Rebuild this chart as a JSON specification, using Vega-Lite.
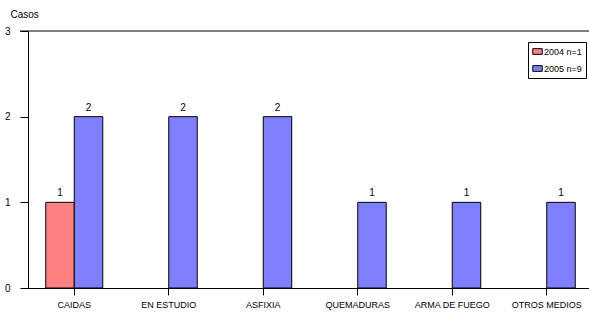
{
  "$schema": "https://vega.github.io/schema/vega-lite/v6.json",
  "width": 561,
  "height": 257,
  "autosize": {"type": "none"},
  "padding": {"left": 28, "top": 31, "right": 0, "bottom": 28},
  "background": "white",
  "config": {
    "view": {"stroke": null},
    "font": "Liberation Sans",
    "axis": {"labelFont": "Liberation Sans", "titleFont": "Liberation Sans"}
  },
  "data": {
    "values": [
      {"causa": "CAIDAS", "serie": "2004 n=1", "casos": 1},
      {"causa": "CAIDAS", "serie": "2005 n=9", "casos": 2},
      {"causa": "EN ESTUDIO", "serie": "2005 n=9", "casos": 2},
      {"causa": "ASFIXIA", "serie": "2005 n=9", "casos": 2},
      {"causa": "QUEMADURAS", "serie": "2005 n=9", "casos": 1},
      {"causa": "ARMA DE FUEGO", "serie": "2005 n=9", "casos": 1},
      {"causa": "OTROS MEDIOS", "serie": "2005 n=9", "casos": 1}
    ]
  },
  "encoding": {
    "x": {
      "field": "causa",
      "type": "nominal",
      "sort": null,
      "scale": {"range": [-1, 566], "paddingInner": 0.397, "paddingOuter": 0.1985},
      "axis": {
        "title": null,
        "labelAngle": 0,
        "labelFontSize": 9,
        "labelColor": "black",
        "labelPadding": 5,
        "tickColor": "black",
        "tickSize": 7,
        "domainColor": "black",
        "grid": false
      }
    },
    "xOffset": {
      "field": "serie",
      "type": "nominal",
      "scale": {"domain": ["2004 n=1", "2005 n=9"]}
    },
    "y": {
      "field": "casos",
      "type": "quantitative",
      "scale": {"domain": [0, 3]},
      "axis": {
        "title": "Casos",
        "titleAngle": 0,
        "titleX": -18,
        "titleY": -12,
        "titleAlign": "left",
        "titleFontSize": 10,
        "titleFontWeight": "normal",
        "titleColor": "black",
        "values": [0, 1, 2, 3],
        "format": "d",
        "labelFontSize": 10,
        "labelColor": "black",
        "labelPadding": 10,
        "tickColor": "black",
        "tickSize": 8,
        "domainColor": "black",
        "grid": false
      }
    }
  },
  "layer": [
    {
      "mark": {"type": "bar", "stroke": "black", "strokeWidth": 1},
      "encoding": {
        "color": {
          "field": "serie",
          "type": "nominal",
          "scale": {"domain": ["2004 n=1", "2005 n=9"], "range": ["#FF8080", "#8080FF"]},
          "legend": {
            "title": null,
            "orient": "none",
            "legendX": 500,
            "legendY": 11,
            "strokeColor": "black",
            "fillColor": "white",
            "padding": 4,
            "labelFontSize": 9,
            "labelColor": "black",
            "labelOffset": 1,
            "rowPadding": 6,
            "symbolType": "M-1,-0.6H1V0.6H-1Z",
            "symbolSize": 90,
            "symbolStrokeColor": "black",
            "symbolStrokeWidth": 1
          }
        }
      }
    },
    {
      "mark": {"type": "text", "dy": -9, "fontSize": 10, "color": "black"},
      "encoding": {"text": {"field": "casos", "type": "quantitative"}}
    },
    {
      "data": {"values": [{"v": 3}]},
      "mark": {"type": "rule", "color": "black", "x": -8, "x2": 561},
      "encoding": {"y": {"field": "v", "type": "quantitative"}, "x": null, "xOffset": null}
    }
  ]
}
